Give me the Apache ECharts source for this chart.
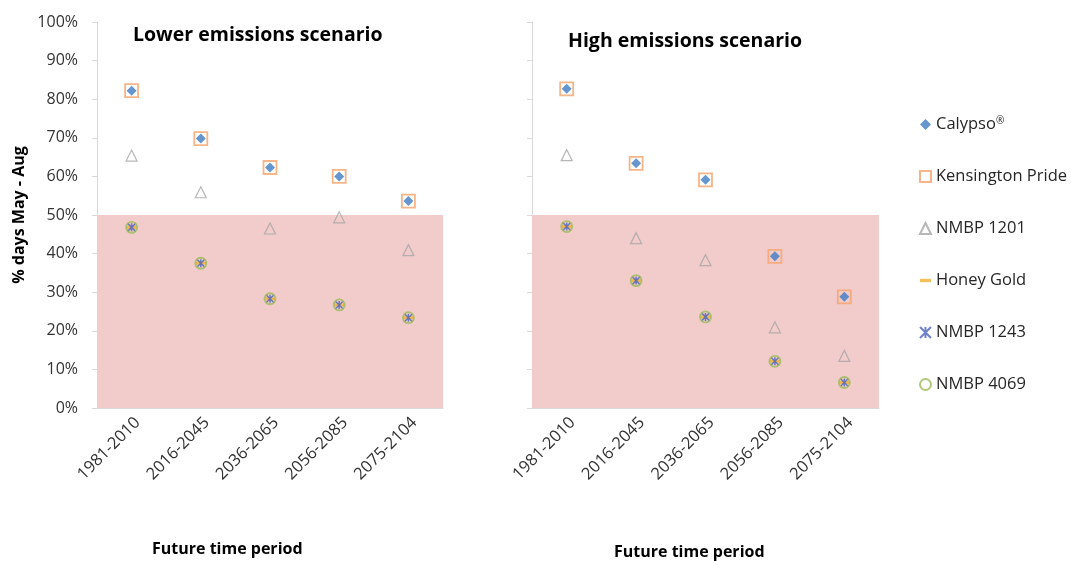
<!DOCTYPE html>
<html><head><meta charset="utf-8">
<script src="https://cdn.jsdelivr.net/npm/echarts@6/dist/echarts.min.js"></script>
<style>html,body{margin:0;padding:0;background:#fff}#c{width:1071px;height:561px}</style>
</head><body><div id="c"></div>
<script>
const categories = ['1981-2010','2016-2045','2036-2065','2056-2085','2075-2104'];
const yTicks = [0,10,20,30,40,50,60,70,80,90,100];
const seriesNames = ['Calypso®','Kensington Pride','NMBP 1201','Honey Gold','NMBP 1243','NMBP 4069'];
// Lower emissions scenario
const lowCalypso      = [82.2, 69.8, 62.3, 60.0, 53.6];
const lowKensington   = [82.2, 69.8, 62.3, 60.0, 53.6];
const lowNMBP1201     = [65.4, 55.9, 46.5, 49.4, 40.9];
const lowHoneyGold    = [46.8, 37.5, 28.3, 26.7, 23.4];
const lowNMBP1243     = [46.8, 37.5, 28.3, 26.7, 23.4];
const lowNMBP4069     = [46.8, 37.5, 28.3, 26.7, 23.4];
// High emissions scenario
const highCalypso     = [82.7, 63.4, 59.1, 39.3, 28.8];
const highKensington  = [82.7, 63.4, 59.1, 39.3, 28.8];
const highNMBP1201    = [65.5, 44.0, 38.3, 20.9, 13.5];
const highHoneyGold   = [47.0, 33.0, 23.6, 12.1, 6.6];
const highNMBP1243    = [47.0, 33.0, 23.6, 12.1, 6.6];
const highNMBP4069    = [47.0, 33.0, 23.6, 12.1, 6.6];
const thresholdBand = [0, 50];

const FONT = '"Open Sans", "Noto Sans", sans-serif';
const styles = [
  {symbol:'diamond', symbolSize:10, itemStyle:{color:'#3E7CC4'}},
  {symbol:'rect', symbolSize:13, itemStyle:{color:'rgba(0,0,0,0)', borderColor:'#F4A36A', borderWidth:1.8}},
  {symbol:'triangle', symbolSize:11, itemStyle:{color:'rgba(0,0,0,0)', borderColor:'#A5A5A5', borderWidth:1.2}},
  {symbol:'path://M0,0h10v3h-10z', symbolSize:[10,3], itemStyle:{color:'#F0B030'}},
  {symbol:'path://M0,0L10,10M10,0L0,10M5,0L5,10', symbolSize:8, itemStyle:{color:'rgba(0,0,0,0)', borderColor:'#4A62C0', borderWidth:1.5}},
  {symbol:'circle', symbolSize:11, itemStyle:{color:'rgba(0,0,0,0)', borderColor:'#9BBB59', borderWidth:1.8}}
];
const lowData = [lowCalypso, lowKensington, lowNMBP1201, lowHoneyGold, lowNMBP1243, lowNMBP4069];
const highData = [highCalypso, highKensington, highNMBP1201, highHoneyGold, highNMBP1243, highNMBP4069];

const series = [];
[lowData, highData].forEach((set, g) => {
  set.forEach((d, i) => {
    const s = Object.assign({
      type:'scatter', name: seriesNames[i], xAxisIndex:g, yAxisIndex:g,
      data: d, z: 3 + i
    }, JSON.parse(JSON.stringify(styles[i])));
    if (i === 0) {
      s.markArea = {silent:true, itemStyle:{color:'#F2CBCB'},
        data:[[{yAxis: thresholdBand[0]},{yAxis: thresholdBand[1]}]]};
    }
    series.push(s);
  });
});

const axisGray = '#D9D9D9';
const labelColor = '#333333';
function xAxis(g){
  return {type:'category', gridIndex:g, data:categories, boundaryGap:true,
    axisLine:{lineStyle:{color:axisGray}}, axisTick:{interval:0, length:5, lineStyle:{color:axisGray}},
    axisLabel:{interval:0, rotate:45, color:labelColor, fontSize:16.5, fontFamily:FONT, margin:6, verticalAlign:'top'}};
}
function yAxis(g){
  return {type:'value', gridIndex:g, min:0, max:100, interval:10,
    axisLine:{show:true, lineStyle:{color:axisGray}}, axisTick:{show:true, length:5, lineStyle:{color:axisGray}},
    splitLine:{show:false},
    axisLabel:{show:g===0, formatter:'{value}%', color:labelColor, fontSize:16, fontFamily:FONT, margin:19},
    name: g===0 ? '% days May - Aug' : '', nameLocation:'middle', nameGap:70, nameRotate:90,
    nameTextStyle:{fontWeight:'bold', fontSize:16, color:'#000', fontFamily:FONT}};
}

const chart = echarts.init(document.getElementById('c'), null, {renderer:'canvas'});
chart.setOption({
  animation:false,
  backgroundColor:'#fff',
  title:[
    {text:'Lower emissions scenario', left:128, top:20, textStyle:{fontSize:19.5, fontWeight:'bold', color:'#000', fontFamily:FONT}},
    {text:'High emissions scenario', left:563, top:26, textStyle:{fontSize:19.5, fontWeight:'bold', color:'#000', fontFamily:FONT}},
    {text:'Future time period', left:147, top:536, textStyle:{fontSize:16, fontWeight:'bold', color:'#000', fontFamily:FONT}},
    {text:'Future time period', left:609, top:539, textStyle:{fontSize:16, fontWeight:'bold', color:'#000', fontFamily:FONT}}
  ],
  legend:{orient:'vertical', left:914, top:111, itemGap:35, itemWidth:11, itemHeight:11,
    data: seriesNames,
    formatter: n => n === 'Calypso®' ? '{a|Calypso}{s|®}' : n,
    textStyle:{fontSize:16.5, color:'#262626', fontFamily:FONT,
      rich:{a:{fontSize:16.5, color:'#262626', fontFamily:FONT}, s:{fontSize:10, color:'#262626', verticalAlign:'top', padding:[0,0,7,0], fontFamily:FONT}}}},
  grid:[{left:97, top:22, width:346, height:386},{left:532, top:22, width:347, height:386}],
  xAxis:[xAxis(0), xAxis(1)],
  yAxis:[yAxis(0), yAxis(1)],
  series: series
});
</script></body></html>
